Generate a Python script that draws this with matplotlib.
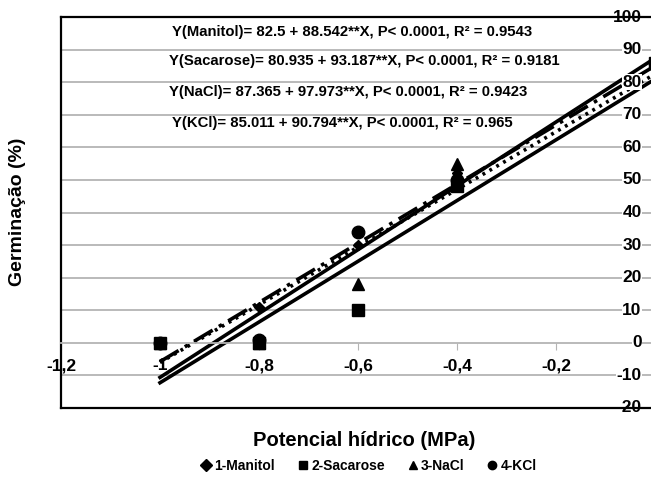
import numpy as np
import matplotlib.pyplot as plt
from matplotlib.lines import Line2D

plt.rcParams['font.family'] = 'Liberation Sans'
plt.rcParams['font.weight'] = 'bold'

# observed points (potencial hidrico, germinacao %)
x_obs = [-1.0, -0.8, -0.6, -0.4, 0.0]
manitol = [0, 11, 30, 52, 86]
sacarose = [0, 0, 10, 48, 86]
nacl = [0, 0, 18, 55, 86]
kcl = [0, 1, 34, 50, 86]

# regression coefficients read from the equations
names = ['1-Manitol', '2-Sacarose', '3-NaCl', '4-KCl']
intercepts = [82.5, 80.935, 87.365, 85.011]
slopes = [88.542, 93.187, 97.973, 90.794]
r2 = ['0.9543', '0.9181', '0.9423', '0.965']
eq_names = ['Manitol', 'Sacarose', 'NaCl', 'KCl']

markers = ['D', 's', '^', 'o']
msizes = [5, 9, 9, 9]
styles = [(0, (0.8, 1.4)), '-', '-', (0, (6, 2, 1, 2))]

xticks = [-1.2, -1.0, -0.8, -0.6, -0.4, -0.2, 0.0]
xlabels = ['-1,2', '-1', '-0,8', '-0,6', '-0,4', '-0,2', '0']
yticks = list(range(-20, 101, 10))

fig = plt.figure(figsize=(6.51, 4.88), dpi=100)
ax = fig.add_axes([61 / 651, 80 / 488, 594 / 651, 391 / 488])
ax.set_xlim(-1.2, 0)
ax.set_ylim(-20, 100)

for y in yticks:
    if -20 < y < 100 and y != 0:
        ax.axhline(y, color='#b4b4b4', lw=1.3, zorder=1, clip_on=False)

# regression lines
xl = np.array([-1.0, 0.0])
for a, b, ls in zip(intercepts, slopes, styles):
    ax.plot(xl, a + b * xl, color='black', lw=2.6, linestyle=ls, zorder=2)

for ys, m, ms in zip([manitol, sacarose, nacl, kcl], markers, msizes):
    ax.plot(x_obs, ys, linestyle='none', marker=m, ms=ms, color='black',
            zorder=5, clip_on=False)

# axes cross at (0, 0)
ax.spines['right'].set_visible(False)
ax.spines['bottom'].set_position(('data', 0))
ax.spines['bottom'].set_color('#b4b4b4')
ax.spines['bottom'].set_linewidth(1.3)
ax.spines['left'].set_linewidth(1.6)
ax.spines['top'].set_linewidth(1.6)
ax.spines['top'].set_zorder(6)
ax.axhline(-20, color='black', lw=1.6, zorder=6, clip_on=False)

ax.set_xticks(xticks)
ax.set_xticklabels(xlabels, fontsize=12.5, fontweight='bold')
ax.tick_params(axis='x', direction='out', length=5, color='#b4b4b4', pad=6)
ax.set_yticks([])

for y in yticks:
    ax.text(-0.027, y, str(y), ha='right', va='center', fontsize=12.5,
            fontweight='bold', zorder=4,
            bbox=dict(facecolor='white', edgecolor='none', pad=0.3))

eq_x = [-0.975, -0.982, -0.982, -0.975]
eq_y = [95.5, 86.5, 77.0, 67.5]
for i in range(4):
    txt = 'Y(%s)= %s + %s**X, P< 0.0001, R² = %s' % (
        eq_names[i], intercepts[i], slopes[i], r2[i])
    ax.text(eq_x[i], eq_y[i], txt, ha='left', va='center', fontsize=10.7,
            fontweight='bold', zorder=4)

fig.text(18 / 651, 1 - 212 / 488, 'Germinação (%)', rotation=90, ha='center',
         va='center', fontsize=14, fontweight='bold')
fig.text(364 / 651, 1 - 440 / 488, 'Potencial hídrico (MPa)', ha='center',
         va='center', fontsize=14.5, fontweight='bold')

handles = [Line2D([], [], linestyle='none', marker=m, color='black', ms=6)
           for m in markers]
fig.legend(handles, names, loc='center', bbox_to_anchor=(368 / 651, 1 - 466 / 488),
           ncol=4, frameon=False, prop={'size': 10, 'weight': 'bold'},
           handletextpad=0.1, columnspacing=1.5, handlelength=1)

fig.savefig('out.png', dpi=100)
